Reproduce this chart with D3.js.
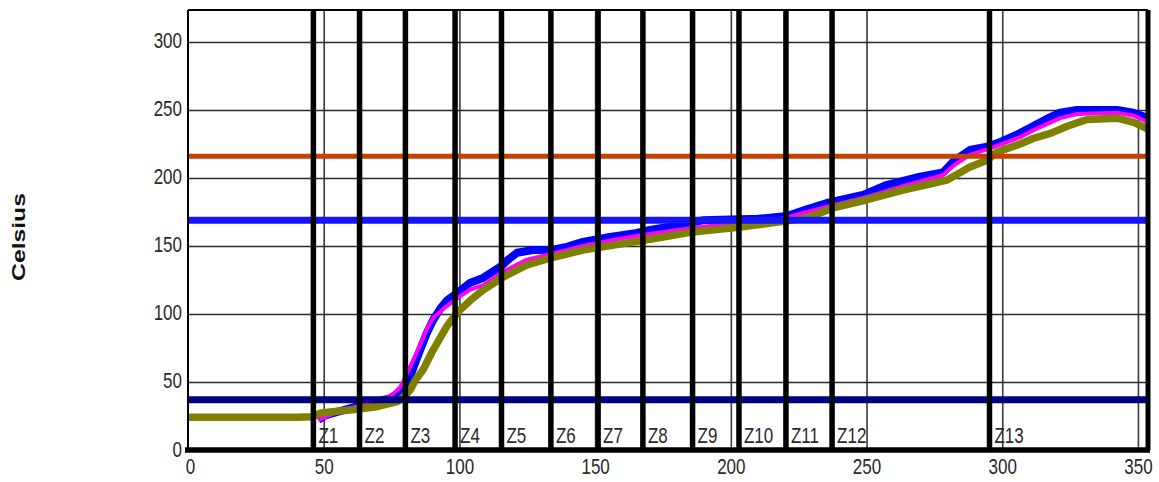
<!DOCTYPE html>
<html>
<head>
<meta charset="utf-8">
<script src="https://cdn.jsdelivr.net/npm/d3@7"></script>
<style>
  html, body { margin: 0; padding: 0; background: #fff; }
  svg { display: block; }
  text { font-family: Arial, "Liberation Sans", sans-serif; }
</style>
</head>
<body>
<svg id="chart" width="1159" height="482"></svg>
<script>
// ---------- DATA ----------
const xTicks = [0, 50, 100, 150, 200, 250, 300, 350];
const yTicks = [0, 50, 100, 150, 200, 250, 300];
const xMax = 353.7;
const yMax = 323.5;

const zoneLabels = ["Z1","Z2","Z3","Z4","Z5","Z6","Z7","Z8","Z9","Z10","Z11","Z12","Z13"];
const zonePos = [46.2, 63.2, 80.1, 98.4, 115.5, 133.7, 151.1, 167.6, 185.9, 203, 220.3, 237.3, 295.3];

const refValues = [216, 169, 37];
const refColors = ["#c84100", "#1414ff", "#000080"];

const blueTemp = [[48,22],[50,25],[55,28],[62.3,32],[68,35],[74.4,38],[78.1,42.6],[80,47],[81.8,53.7],[83.5,63],[85.5,73.5],[88,86],[90.3,95.6],[93,104],[95.4,110],[100.2,117],[104,123],[108.7,126.5],[115,134.6],[118,140],[121.2,145],[127.1,147],[133.4,147],[139.6,149.3],[145.5,153],[155.5,156.6],[165.4,159.6],[170.2,161.8],[181.3,165.4],[190,169],[200,169.5],[210,170],[220.7,172],[228,177],[235.4,181.6],[248.7,187.5],[257.6,195],[269.7,201],[278.2,204],[281.9,212],[288.1,220.6],[294.4,223],[300,227],[306.6,233],[311.3,238],[316,243],[321.3,248],[327.6,250],[342.3,250],[348.2,248],[353.7,244]];

const magentaTemp = [[48,22],[55,28],[62.3,32],[70,36],[75,40],[78.1,46],[80,53],[82,62],[85.5,77],[88,89],[90.3,97],[95.4,106],[100.2,113],[104,118],[108.7,121],[116,131],[124.9,140],[133.4,144],[145.5,150],[158,155],[167.6,158],[185,163],[203.4,167],[215.5,169],[220.7,171],[228,175],[237.7,180],[250.2,186],[263.4,194],[278,202],[282,209],[288,217],[294.4,221],[300,225],[306.6,230],[311.3,235],[321.3,244],[327.6,247],[342.3,248],[348.2,246],[353.7,241]];

const oliveTemp = [[0,24],[10,24],[20,24],[30,24],[40,24],[46,24.5],[48.6,27],[55,28.5],[62.3,30],[70,32],[77,35.5],[80,40],[81.8,44],[84,52],[86.6,59],[90.3,73.5],[95.4,91],[98,98],[100.2,103],[104,110],[108.7,117.6],[116,127],[124.9,136],[133.4,141],[145.5,147],[158,151],[167.6,154],[170.2,155],[185,160],[203.4,164],[215.5,167],[228,170.6],[237.7,178],[250.2,184],[263.4,191],[279.7,198.5],[288.1,208],[294.4,213],[298,219],[306.6,225],[311.3,229],[318,233],[323.9,238],[331.2,243],[342.3,244],[348.2,241],[353.7,236]];

// ---------- LAYOUT ----------
const pLeft = 188, pRight = 1148, pTop = 10, pBottom = 450;
const svg = d3.select("#chart");

const x = d3.scaleLinear().domain([0, xMax]).range([pLeft, pRight]);
const y = d3.scaleLinear().domain([0, yMax]).range([pBottom, pTop]);

// gridlines
const gridX = d3.axisBottom(x).tickValues(xTicks.slice(1)).tickSize(-(pBottom - pTop)).tickFormat("");
svg.append("g").attr("transform", `translate(0,${pBottom})`).call(gridX)
  .call(g => g.select(".domain").remove())
  .call(g => g.selectAll("line").attr("stroke", "#3a3a3a").attr("stroke-width", 1.6));

const gridY = d3.axisLeft(y).tickValues(yTicks.slice(1)).tickSize(-(pRight - pLeft)).tickFormat("");
svg.append("g").attr("transform", `translate(${pLeft},0)`).call(gridY)
  .call(g => g.select(".domain").remove())
  .call(g => g.selectAll("line").attr("stroke", "#2a2a2a").attr("stroke-width", 1.6));

// curves
const line = d3.line().x(d => x(d[0])).y(d => y(d[1]));
svg.append("path").datum(blueTemp).attr("d", line)
  .attr("fill", "none").attr("stroke", "#0000ff").attr("stroke-width", 8).attr("stroke-linejoin", "round");
svg.append("path").datum(magentaTemp).attr("d", line)
  .attr("fill", "none").attr("stroke", "#ff00ff").attr("stroke-width", 4).attr("stroke-linejoin", "round");
svg.append("path").datum(oliveTemp).attr("d", line)
  .attr("fill", "none").attr("stroke", "#808000").attr("stroke-width", 7.5).attr("stroke-linejoin", "round");

// reference lines
const refWidths = [5, 7, 7];
svg.append("g").selectAll("line").data(refValues).join("line")
  .attr("x1", pLeft).attr("x2", pRight)
  .attr("y1", d => y(d)).attr("y2", d => y(d))
  .attr("stroke", (d, i) => refColors[i])
  .attr("stroke-width", (d, i) => refWidths[i]);

// zone lines
svg.append("g").selectAll("line").data(zonePos).join("line")
  .attr("x1", d => x(d)).attr("x2", d => x(d))
  .attr("y1", pTop).attr("y2", pBottom)
  .attr("stroke", "#000").attr("stroke-width", 5.5);

// zone labels
svg.append("g").selectAll("text").data(zonePos).join("text")
  .attr("transform", d => `translate(${x(d) + 5},443) scale(1,1.28)`)
  .attr("font-size", 17).attr("fill", "#2a2a2a")
  .text((d, i) => zoneLabels[i]);

// frame
svg.append("line").attr("x1", pLeft).attr("x2", pRight).attr("y1", pTop).attr("y2", pTop)
  .attr("stroke", "#000").attr("stroke-width", 2);
svg.append("line").attr("x1", pRight).attr("x2", pRight).attr("y1", pTop).attr("y2", pBottom)
  .attr("stroke", "#000").attr("stroke-width", 5);

// axes
const xAxis = d3.axisBottom(x).tickValues(xTicks).tickSize(0).tickPadding(0);
svg.append("g").attr("transform", `translate(0,${pBottom})`).call(xAxis)
  .call(g => g.select(".domain").remove())
  .call(g => g.selectAll("text")
    .attr("font-size", 17).attr("fill", "#2a2a2a")
    .attr("dy", null).attr("y", null)
    .attr("transform", d => `translate(${d === 0 ? 2 : 0},24) scale(1,1.28)`));
svg.append("line").attr("x1", pLeft - 3).attr("x2", pRight + 2).attr("y1", pBottom).attr("y2", pBottom)
  .attr("stroke", "#000").attr("stroke-width", 5.5);

const yAxis = d3.axisLeft(y).tickValues(yTicks).tickSize(0).tickPadding(0);
svg.append("g").attr("transform", `translate(${pLeft},0)`).call(yAxis)
  .call(g => g.select(".domain").remove())
  .call(g => g.selectAll("text")
    .attr("font-size", 17).attr("fill", "#2a2a2a")
    .attr("x", null).attr("dy", null)
    .attr("transform", `translate(-6,6) scale(1,1.28)`));
svg.append("line").attr("x1", pLeft).attr("x2", pLeft).attr("y1", pTop).attr("y2", pBottom + 2)
  .attr("stroke", "#000").attr("stroke-width", 2);

// y title
svg.append("text")
  .attr("transform", "translate(25,237) scale(1,1.3) rotate(-90)")
  .attr("text-anchor", "middle")
  .attr("font-size", 19).attr("font-weight", "bold").attr("fill", "#111")
  .text("Celsius");
</script>
</body>
</html>
